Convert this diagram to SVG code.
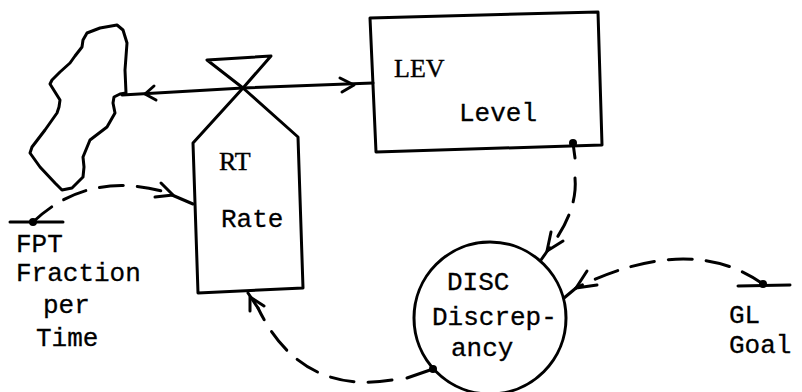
<svg xmlns="http://www.w3.org/2000/svg" width="802" height="392" viewBox="0 0 802 392">
  <style>
    .ink { fill: none; stroke: #000; stroke-width: 3; stroke-linejoin: round; stroke-linecap: round; }
    .dash { fill: none; stroke: #000; stroke-width: 3; stroke-dasharray: 24 14; stroke-linecap: round; }
    .dot { fill: #000; }
    .mono { font-family: "Liberation Mono", "Courier New", monospace; font-size: 26px; fill: #000; stroke: #000; stroke-width: 0.3; }
    .serif { font-family: "Liberation Serif", "Times New Roman", serif; font-size: 26px; fill: #000; stroke: #000; stroke-width: 0.4; }
  </style>
  <rect width="802" height="392" fill="#fff"/>

  <!-- source/sink cloud -->
  <g id="cloud">
    <path class="ink" d="M117,25 L100,28 L87,33 L83,40 L82,47 L75,56 L70,63 L60,72 L52,80 L50,84 L55,92 L60,100 L59,107 L57,113 L45,130 L32,147 L30,153 L40,167 L55,183 L62,190 L72,188 L83,177 L84,167 L83,157 L90,140 L107,127 L115,113 L113,103 L114,97 L120,94 L126,93 L125,70 L127,43 L123,30 Z"/>
  </g>

  <!-- rate (valve) -->
  <g id="rate">
    <path class="ink" d="M207,60 L271,56 L243,88 Z"/>
    <path class="ink" d="M243,88 L193,143 L198,293 L303,288 L298,137 Z"/>
    <text class="serif" x="219" y="170">RT</text>
    <text class="mono" x="221" y="227">Rate</text>
  </g>

  <!-- level -->
  <g id="level">
    <path class="ink" d="M370,18 L598,12 L602,145 L376,152 Z"/>
    <text class="serif" x="394" y="77">LEV</text>
    <text class="mono" x="459" y="121">Level</text>
  </g>

  <!-- discrepancy auxiliary -->
  <g id="disc">
    <circle class="ink" cx="490" cy="318" r="76"/>
    <text class="mono" x="447" y="290">DISC</text>
    <text class="mono" x="432" y="325">Discrep-</text>
    <text class="mono" x="451" y="356">ancy</text>
  </g>

  <!-- constant: fraction per time -->
  <g id="fpt">
    <path class="ink" d="M10,222 L63,222"/>
    <circle class="dot" cx="33" cy="222" r="4"/>
    <text class="mono" x="16" y="252">FPT</text>
    <text class="mono" x="16" y="281">Fraction</text>
    <text class="mono" x="43" y="313">per</text>
    <text class="mono" x="36" y="346">Time</text>
  </g>

  <!-- constant: goal -->
  <g id="gl">
    <path class="ink" d="M738,286 L790,285"/>
    <circle class="dot" cx="763" cy="284" r="4"/>
    <text class="mono" x="729" y="323">GL</text>
    <text class="mono" x="729" y="353">Goal</text>
  </g>

  <g id="connectors">
    <!-- material flow through the valve -->
    <path class="ink" d="M122,95 L243,88 L373,83"/>
    <path class="ink" d="M154,86 L145,94 L156,100"/>
    <path class="ink" d="M340,78 L354,85 L342,92"/>

    <!-- FPT to rate -->
    <path class="dash" d="M33,222 Q90,168 172,194"/>
    <path class="ink" d="M172,195 L193,204"/>
    <path class="ink" d="M155,197 L173,195 L161,183"/>

    <!-- level to discrepancy -->
    <circle class="dot" cx="573" cy="143" r="4"/>
    <path class="ink" d="M573,143 L575,158"/>
    <path class="dash" d="M575,178 C577,200 568,225 548,250" stroke-dasharray="22 14 18 14"/>
    <path class="ink" d="M548,250 L541,260"/>
    <path class="ink" d="M551,232 L547,251 L563,241"/>

    <!-- goal to discrepancy -->
    <path class="dash" d="M763,284 Q690,232 576,288"/>
    <path class="ink" d="M576,288 L564,298"/>
    <path class="ink" d="M587,271 L576,288 L597,285"/>

    <!-- discrepancy to rate -->
    <circle class="dot" cx="433" cy="369" r="4"/>
    <path class="ink" d="M433,369 L407,378"/>
    <path class="dash" d="M392,380 Q300,395 258,308" stroke-dasharray="20 13"/>
    <path class="ink" d="M258,308 L248,293"/>
    <path class="ink" d="M250,311 L250,297 L264,306"/>
  </g>
</svg>
